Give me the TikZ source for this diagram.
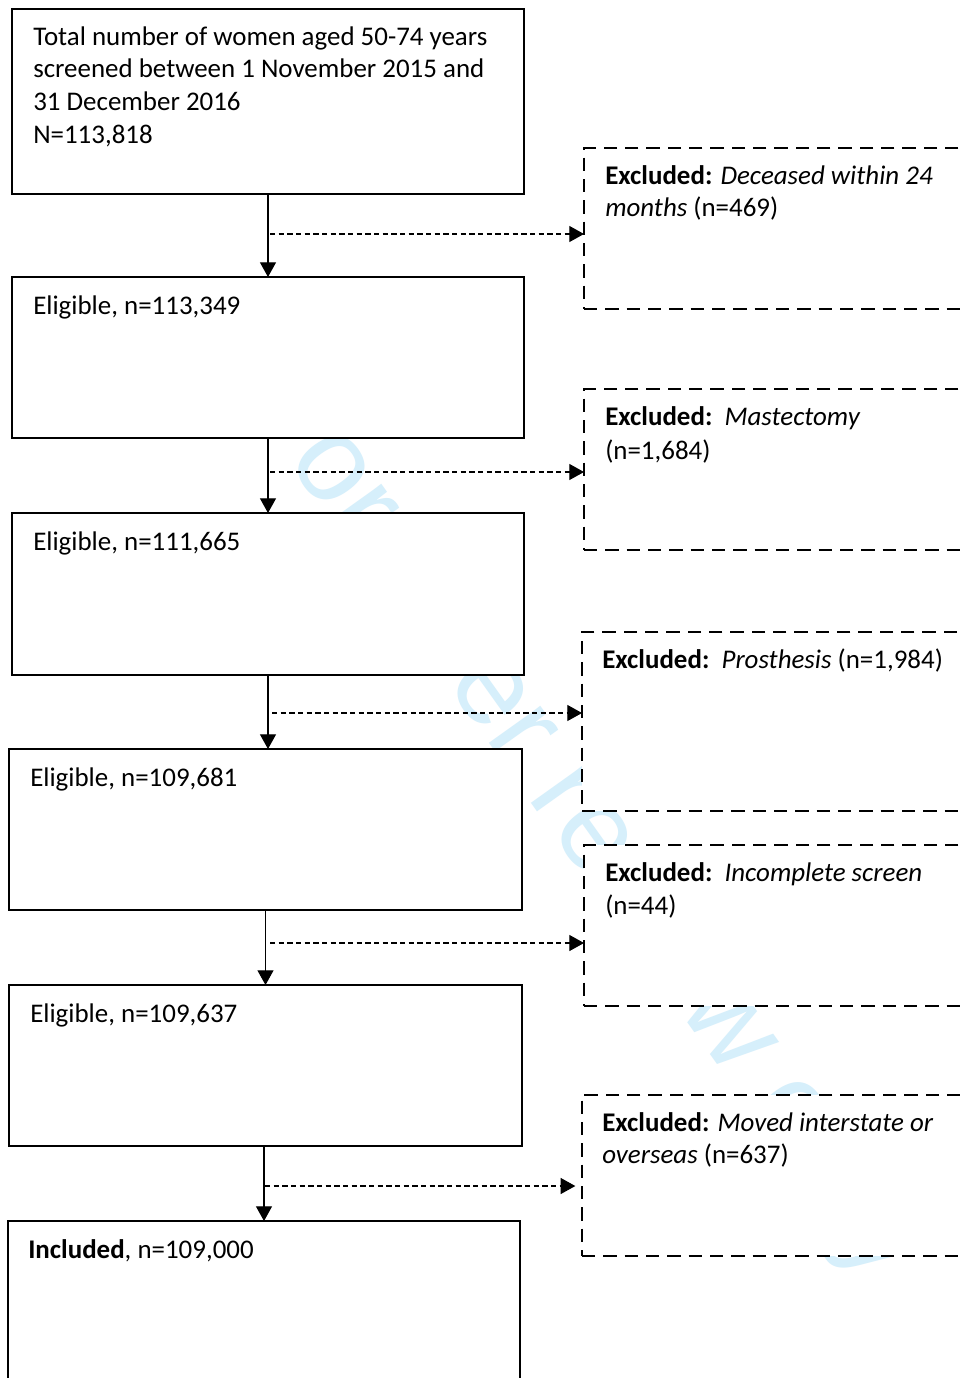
\documentclass[tikz,border=0pt]{standalone}
\usepackage{fontspec}
\setmainfont{Carlito}
\newfontfamily\wmfont{Liberation Sans}
\usetikzlibrary{arrows.meta}
\definecolor{wmcyan}{RGB}{214,239,251}
\begin{document}
\begin{tikzpicture}[x=0.75pt,y=-0.75pt,
  solidbox/.style={draw=black, line width=1.7pt, fill=white, inner sep=0pt, outer sep=0pt, rectangle},
  dashbox/.style={draw=black, line width=1.8pt, dash pattern=on 10pt off 6pt, fill=white, inner sep=0pt, outer sep=0pt, rectangle},
  txt/.style={inner sep=0pt, anchor=base west, font=\fontsize{20.2pt}{24.5pt}\selectfont},
  flow/.style={line width=0.8pt, -{Triangle[length=11pt,width=12pt]}},
  side/.style={line width=0.8pt, dash pattern=on 4pt off 2.5pt, -{Triangle[length=11pt,width=12pt]}},
  wm/.style={text=wmcyan, inner sep=0pt, anchor=base west, font=\wmfont\fontsize{90pt}{90pt}\selectfont}]
\clip (0,0) rectangle (960,1378);
\fill[white] (0,0) rectangle (960,1378);
% watermark
\node[wm, rotate=-54.5] (wmk) at (244,400) {For peer review only};
% main boxes
\node[solidbox, minimum width=384pt, minimum height=138.75pt] (b1) at (268,101.5) {};
\node[solidbox, minimum width=384pt, minimum height=120.75pt] (b2) at (268,357.5) {};
\node[solidbox, minimum width=384pt, minimum height=121.5pt] (b3) at (268,594) {};
\node[solidbox, minimum width=384.75pt, minimum height=120.75pt] (b4) at (265.5,829.5) {};
\node[solidbox, minimum width=384.75pt, minimum height=120.75pt] (b5) at (265.5,1065.5) {};
\node[solidbox, minimum width=384pt, minimum height=149.25pt] (b6) at (264,1320.5) {};
% excluded boxes
\node[dashbox, minimum width=312pt, minimum height=120.75pt] (d1) at (792,228.5) {};
\node[dashbox, minimum width=312pt, minimum height=120.75pt] (d2) at (792,469.5) {};
\node[dashbox, minimum width=313.5pt, minimum height=134.25pt] (d3) at (791,721.5) {};
\node[dashbox, minimum width=312pt, minimum height=120.75pt] (d4) at (792,925.5) {};
\node[dashbox, minimum width=313.5pt, minimum height=120.75pt] (d5) at (791,1175.5) {};
% texts
\node[txt] (t1) at (33,45) {\vtop{\baselineskip=24.5pt\hbox{Total number of women aged 50-74 years}\hbox{screened between 1 November 2015 and}\hbox{31 December 2016}\hbox{N=113,818}}};
\node[txt] (t2) at (33,314) {Eligible, n=113,349};
\node[txt] (t3) at (33,550) {Eligible, n=111,665};
\node[txt] (t4) at (30,786) {Eligible, n=109,681};
\node[txt] (t5) at (30,1022) {Eligible, n=109,637};
\node[txt] (t6) at (28,1258) {\textbf{Included}, n=109,000};
\node[txt] (e1) at (605,184) {\vtop{\baselineskip=24pt\hbox{\textbf{Excluded:} \textit{Deceased within 24}}\hbox{\textit{months} (n=469)}}};
\node[txt] (e2) at (605,425) {\vtop{\baselineskip=25.5pt\hbox{\textbf{Excluded:}\ \ \textit{Mastectomy}}\hbox{(n=1,684)}}};
\node[txt] (e3) at (602,668) {\textbf{Excluded:}\ \ \textit{Prosthesis} (n=1,984)};
\node[txt] (e4) at (605,881) {\vtop{\baselineskip=24.75pt\hbox{\textbf{Excluded:}\ \ \textit{Incomplete screen}}\hbox{(n=44)}}};
\node[txt] (e5) at (602,1131) {\vtop{\baselineskip=24pt\hbox{\textbf{Excluded:} \textit{Moved interstate or}}\hbox{\textit{overseas} (n=637)}}};
% vertical flow
\draw[flow] (b1.south) -- (b2.north);
\draw[flow] (b2.south) -- (b3.north);
\draw[flow] (b3.south) -- (b4.north -| b3.south);
\draw[flow] (b4.south) -- (b5.north);
\draw[flow] (b6.north |- b5.south) -- (b6.north);
% side arrows
\coordinate (s1) at (270,234);
\coordinate (s2) at (270,472);
\coordinate (s3) at (272,713);
\coordinate (s4) at (270,943);
\coordinate (s5) at (265,1186);
\draw[side] (s1) -- (s1 -| d1.west);
\draw[side] (s2) -- (s2 -| d2.west);
\draw[side] (s3) -- (s3 -| d3.west);
\draw[side] (s4) -- (s4 -| d4.west);
\draw[side, shorten >=5pt] (s5) -- (s5 -| d5.west);
\end{tikzpicture}
\end{document}
